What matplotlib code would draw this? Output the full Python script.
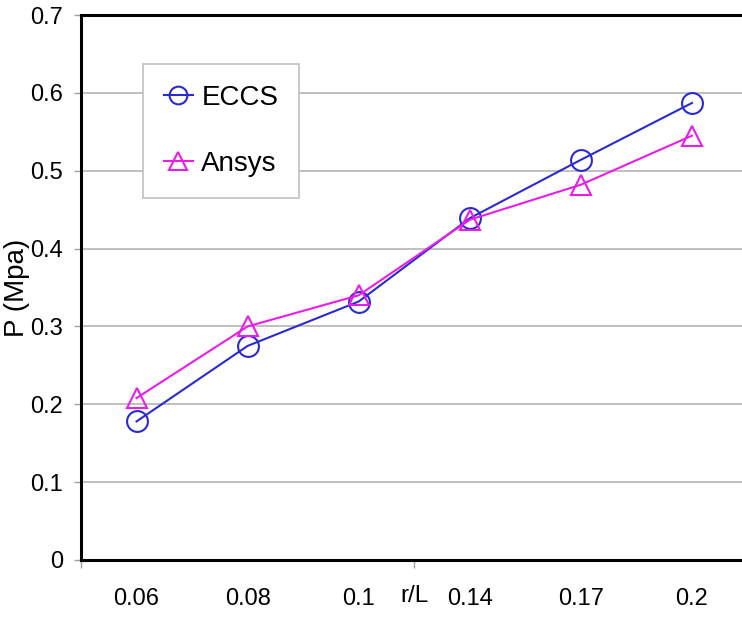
import numpy as np
import matplotlib.pyplot as plt

rL = ['0.06', '0.08', '0.1', '0.14', '0.17', '0.2']
eccs = [0.178, 0.275, 0.332, 0.439, 0.514, 0.587]
ansys = [0.208, 0.300, 0.340, 0.437, 0.482, 0.545]
yticks = [0, 0.1, 0.2, 0.3, 0.4, 0.5, 0.6, 0.7]
ytickLbl = ['0', '0.1', '0.2', '0.3', '0.4', '0.5', '0.6', '0.7']

plt.rcParams['font.family'] = ['Liberation Sans', 'DejaVu Sans']

W, H = 742, 618
fig = plt.figure(figsize=(W / 100, H / 100), dpi=100)
# right spine sits just outside the picture, as in the original
ax = fig.add_axes([81 / W, (H - 560) / H, (747.5 - 81) / W, (560 - 15) / H])

x = np.arange(len(rL))
ax.plot(x, eccs, color='#2a2ad0', lw=1.5, marker='o', ms=15, mfc='none',
        mew=1.5, label='ECCS', zorder=3)
ax.plot(x, ansys, color='#e81ee8', lw=1.5, marker='^', ms=15, mfc='none',
        mew=1.5, label='Ansys', zorder=3)

ax.set_xlim(-0.5, len(rL) - 0.5)
ax.set_ylim(0, 0.7)
ax.set_yticks(yticks)
ax.set_yticklabels(ytickLbl)
ax.set_xticks(x)
ax.set_xticklabels(rL)
ax.set_xticks([-0.5, 2.5], minor=True)
ax.tick_params(axis='x', which='major', length=0, pad=20, labelsize=17)
ax.tick_params(axis='x', which='minor', length=6, width=1, color='#a0a0a0')
ax.tick_params(axis='y', length=5, width=1, color='#a0a0a0', pad=8, labelsize=17)
ax.yaxis.grid(True, color='#b4b4b4', lw=1.2)
ax.set_axisbelow(True)

for s in ['left', 'bottom', 'top', 'right']:
    ax.spines[s].set_linewidth(2.2)
    ax.spines[s].set_color('black')

ax.set_xlabel('r/L', fontsize=17.5)
ax.xaxis.set_label_coords(0.5, -0.045)
ax.set_ylabel('P (Mpa)', fontsize=20)
ax.yaxis.set_label_coords(-0.076, 0.5)

leg = ax.legend(loc='upper left', bbox_to_anchor=(0.093, 0.910), borderaxespad=0,
                fontsize=20, frameon=True, fancybox=False, framealpha=1,
                edgecolor='#c0c0c0', handlelength=1.05, handletextpad=0.3,
                labelspacing=1.45, borderpad=0.75, markerscale=0.85)
leg.get_frame().set_linewidth(1.2)

fig.savefig('out.png', dpi=100)
